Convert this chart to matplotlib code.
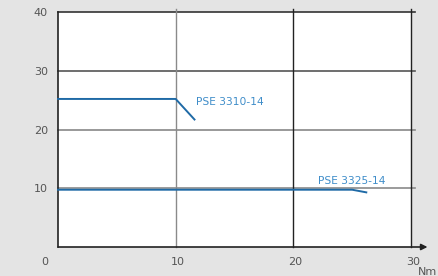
import matplotlib
matplotlib.use("Agg")
import matplotlib.pyplot as plt

# Data
s1_name = "PSE 3310-14"
s1_x = [0, 10, 11.6]
s1_y = [25.2, 25.2, 21.7]
s2_name = "PSE 3325-14"
s2_x = [0, 25.0, 26.2]
s2_y = [9.75, 9.75, 9.3]
x_ticks = [0, 10, 20, 30]
y_ticks = [10, 20, 30, 40]
x_unit = "Nm"

bg = "#e4e4e4"
line_c = "#1f6aa6"
text_c = "#3f8dc9"
tick_c = "#555555"

fig = plt.figure(figsize=(4.39, 2.76), dpi=100, facecolor=bg)
ax = fig.add_axes([58/439, 1-247/276, (411-58)/439, (247-12)/276])
ax.set_facecolor("white")
ax.set_xlim(0, 30)
ax.set_ylim(0, 40)
for sp in ax.spines.values():
    sp.set_visible(False)
ax.set_xticks([])
ax.set_yticks([])

hcols = {10: "#8a8a8a", 20: "#888888", 30: "#555555", 40: "#333333"}
for yv in y_ticks:
    ax.plot([0, 30.35], [yv, yv], color=hcols[yv], lw=1.2, clip_on=False, zorder=1)
vcols = {10: "#8a8a8a", 20: "#222222", 30: "#222222"}
for xv in x_ticks[1:]:
    ax.plot([xv, xv], [0, 40.5], color=vcols[xv], lw=1.0, clip_on=False, zorder=1)
ax.plot([0, 0], [0, 40], color="#222222", lw=1.2, clip_on=False, zorder=2)
ax.annotate("", xy=(31.4, 0), xytext=(0, 0),
            arrowprops=dict(arrowstyle="-|>", color="#222222", lw=1.2,
                            mutation_scale=9, shrinkA=0, shrinkB=0),
            annotation_clip=False, zorder=2)

ax.plot(s1_x, s1_y, color=line_c, lw=1.4, zorder=3, clip_on=False)
ax.plot(s2_x, s2_y, color=line_c, lw=1.4, zorder=3, clip_on=False)
ax.text(11.7, 24.6, s1_name, color=text_c, fontsize=7.7, va="center", ha="left")
ax.text(22.1, 11.2, s2_name, color=text_c, fontsize=7.7, va="center", ha="left")

for yv in y_ticks:
    ax.text(-0.85, yv - 0.2, str(yv), color=tick_c, fontsize=8, ha="right", va="center")
for xv in x_ticks:
    xx = -1.15 if xv == 0 else xv + 0.15
    ax.text(xx, -2.6, str(xv), color=tick_c, fontsize=8, ha="center", va="center")
ax.text(32.25, -4.3, x_unit, color=tick_c, fontsize=8, ha="right", va="center")

fig.savefig("out.png", dpi=100, facecolor=bg)
